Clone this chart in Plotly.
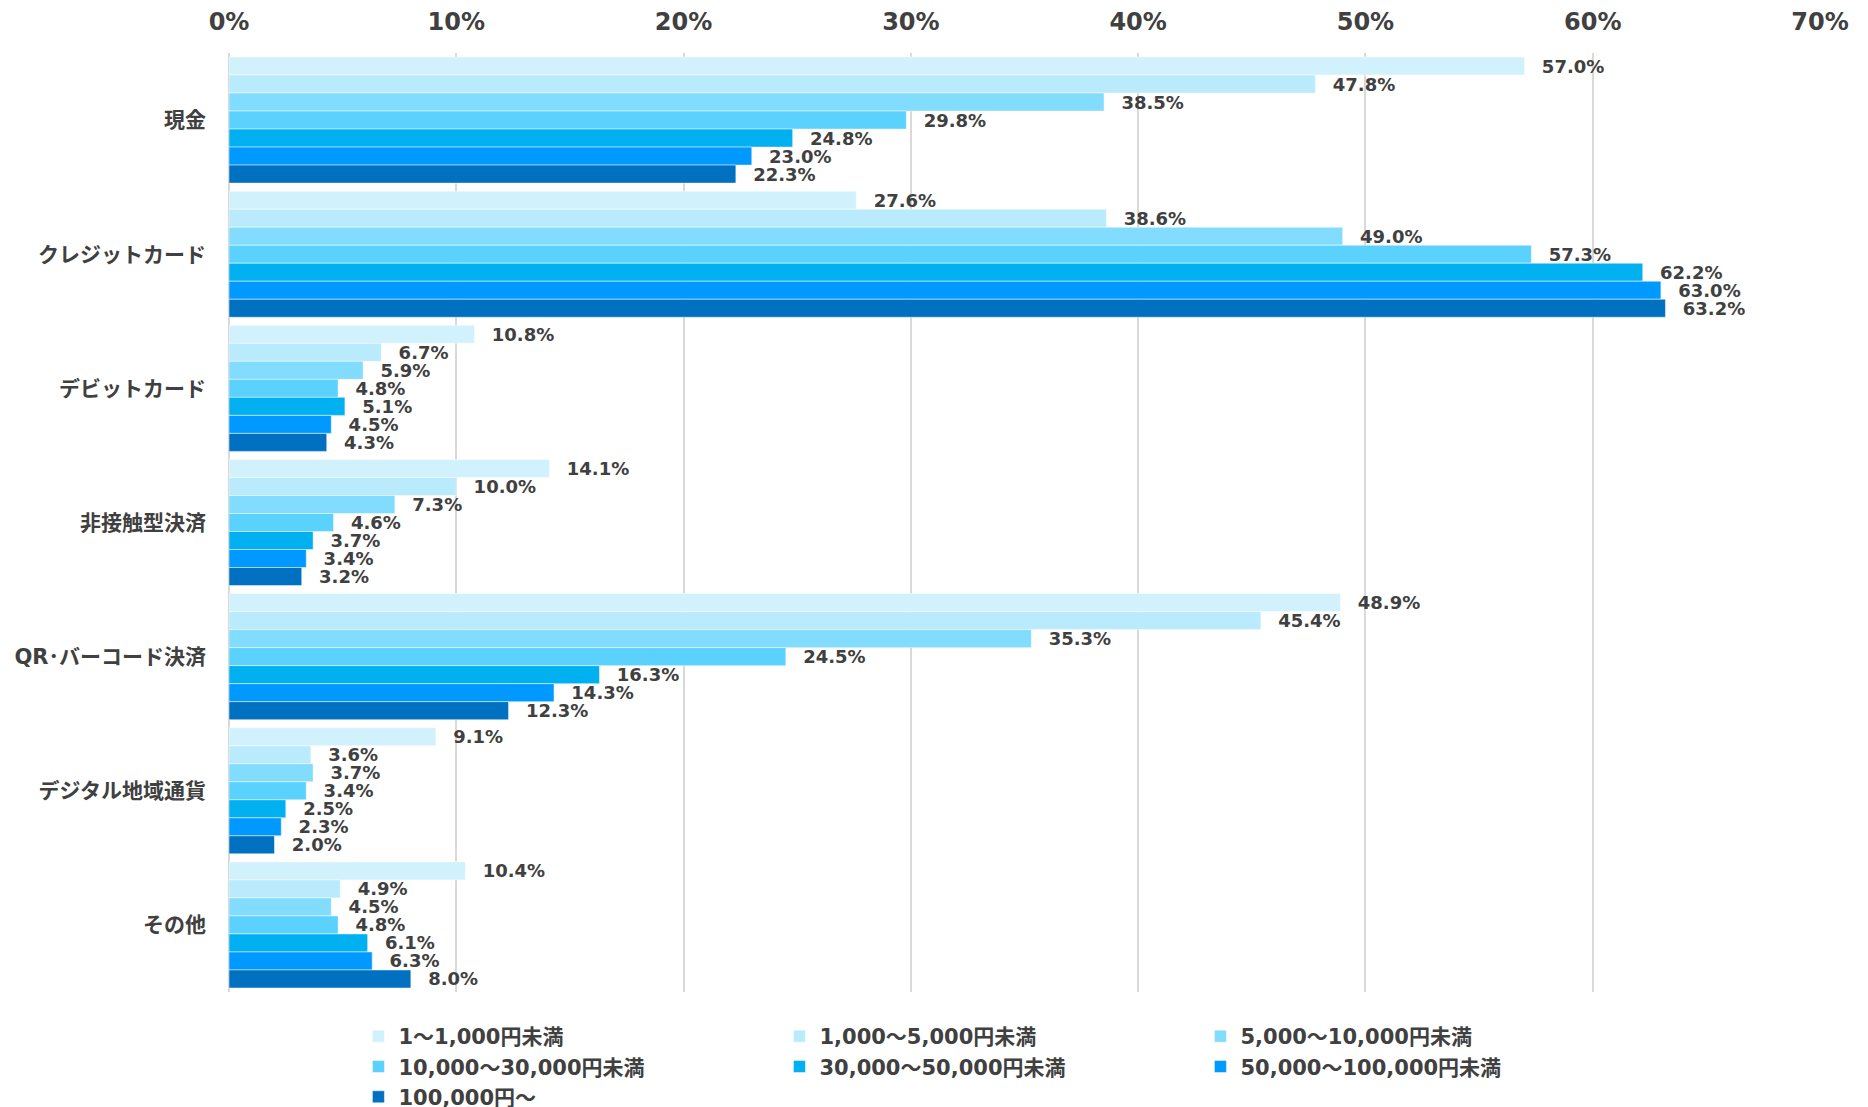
import plotly.graph_objects as go

categories = ["現金", "クレジットカード", "デビットカード", "非接触型決済", "QR･バーコード決済", "デジタル地域通貨", "その他"]
series_names = ["1～1,000円未満", "1,000～5,000円未満", "5,000～10,000円未満", "10,000～30,000円未満",
                "30,000～50,000円未満", "50,000～100,000円未満", "100,000円～"]
s1 = [57.0, 27.6, 10.8, 14.1, 48.9, 9.1, 10.4]
s2 = [47.8, 38.6, 6.7, 10.0, 45.4, 3.6, 4.9]
s3 = [38.5, 49.0, 5.9, 7.3, 35.3, 3.7, 4.5]
s4 = [29.8, 57.3, 4.8, 4.6, 24.5, 3.4, 4.8]
s5 = [24.8, 62.2, 5.1, 3.7, 16.3, 2.5, 6.1]
s6 = [23.0, 63.0, 4.5, 3.4, 14.3, 2.3, 6.3]
s7 = [22.3, 63.2, 4.3, 3.2, 12.3, 2.0, 8.0]
series_values = [s1, s2, s3, s4, s5, s6, s7]
colors = ["#D1F1FD", "#B9EBFD", "#81DCFD", "#5AD2FD", "#00B0F0", "#0099FF", "#0070C0"]

FONT = "DejaVu Sans, Noto Sans CJK JP, sans-serif"
TXT = "#404040"
PAD = "\u00a0\u00a0\u200a"

fig = go.Figure()
for name, vals, col in zip(series_names, series_values, colors):
    fig.add_trace(go.Bar(
        y=categories, x=vals, name=name, orientation="h",
        marker=dict(color=col, line=dict(width=0.8, color="rgba(255,255,255,0.6)")),
        text=[f"{PAD}{v:.1f}%" for v in vals], textposition="outside",
        textfont=dict(family=FONT, size=18, color=TXT, weight="bold"),
        constraintext="none", cliponaxis=False,
    ))

fig.update_layout(
    width=1868, height=1107,
    barmode="group", bargap=0.06, bargroupgap=0,
    plot_bgcolor="white", paper_bgcolor="white",
    margin=dict(l=221, r=56, t=45, b=123, autoexpand=False),
    font=dict(family=FONT, color=TXT, weight="bold"),
    xaxis=dict(side="top", range=[0, 70], dtick=10, ticksuffix="%", automargin=False,
               showgrid=True, gridcolor="#D9D9D9", gridwidth=1.5,
               zeroline=True, zerolinecolor="#D9D9D9", zerolinewidth=1.5,
               tickfont=dict(size=24, color=TXT, family=FONT, weight="bold"),
               ticks="", ticklabelstandoff=17),
    yaxis=dict(autorange="reversed", automargin=False,
               tickfont=dict(size=21, color=TXT, family=FONT, weight="bold"),
               ticks="", ticklabelstandoff=22, showline=False),
    legend=dict(orientation="h", xref="container", yref="container",
                x=0.1876, xanchor="left", y=0.0894, yanchor="top",
                entrywidth=376, entrywidthmode="pixels", traceorder="normal",
                font=dict(size=21, color=TXT, family=FONT, weight="bold"),
                itemwidth=30),
    showlegend=True,
)

fig.write_html("out.html")
